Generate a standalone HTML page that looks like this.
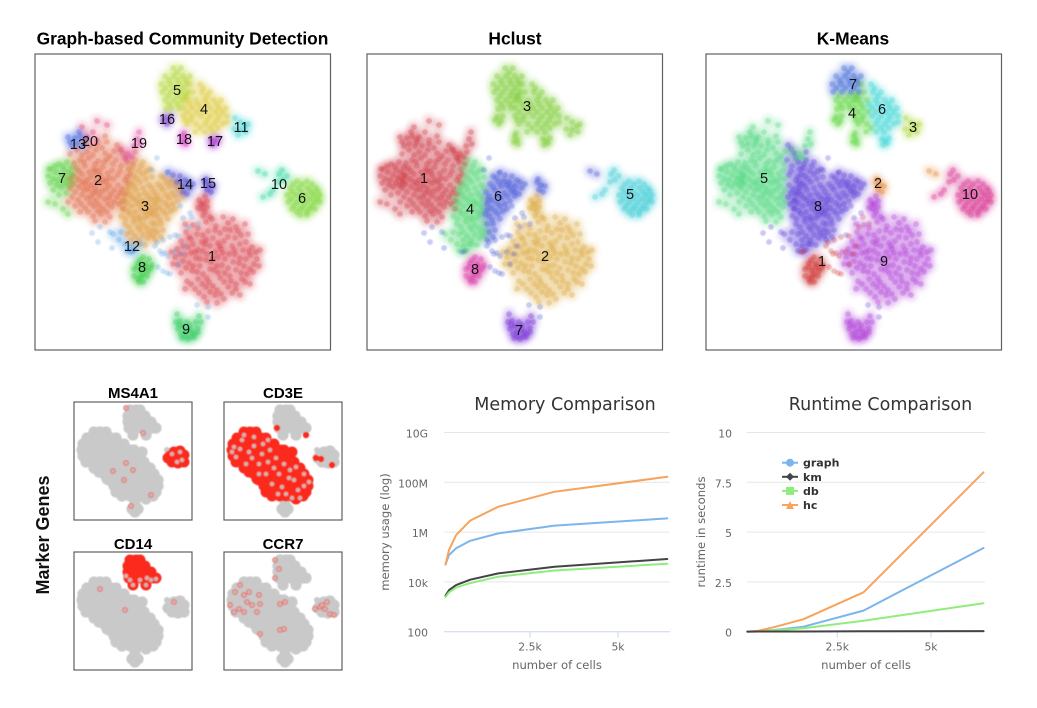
<!DOCTYPE html>
<html lang="en">
<head>
<meta charset="utf-8">
<title>Clustering comparison</title>
<style>
html,body{margin:0;padding:0;background:#fff;width:1037px;height:708px;overflow:hidden}
svg{display:block}
.big-title{font:bold 17.4px "Liberation Sans",sans-serif;fill:#000;text-anchor:middle}
.mini-title{font:bold 15px "Liberation Sans",sans-serif;fill:#000;text-anchor:middle}
.side-title{font:bold 18px "Liberation Sans",sans-serif;fill:#111;text-anchor:middle}
.chart-title{font:17.5px "DejaVu Sans",sans-serif;fill:#333;text-anchor:middle}
.axis-title{font:11.6px "DejaVu Sans",sans-serif;fill:#666;text-anchor:middle}
.tick{font:10.8px "DejaVu Sans",sans-serif;fill:#666}
.legend-text{font:bold 11px "DejaVu Sans",sans-serif;fill:#333}
.cluster-label{font:14.5px "Liberation Sans",sans-serif;fill:#111;text-anchor:middle}
.frame{fill:#fff;stroke:#606060;stroke-width:1.2}
</style>
</head>
<body>
<svg id="figure" xmlns="http://www.w3.org/2000/svg" width="1037" height="708" viewBox="0 0 1037 708">
  <defs>
    <filter id="soft" x="-10%" y="-10%" width="120%" height="120%"><feGaussianBlur stdDeviation="2.4"/></filter>
    <filter id="slight" x="-5%" y="-5%" width="110%" height="110%"><feGaussianBlur stdDeviation="0.4"/></filter>
  </defs>
  <text class="big-title" x="182.5" y="44.5">Graph-based Community Detection</text>
  <text class="big-title" x="515" y="44.5">Hclust</text>
  <text class="big-title" x="853" y="44.5">K-Means</text>
  <text class="side-title" transform="translate(49,535) rotate(-90)">Marker Genes</text>
  <text class="mini-title" x="133" y="398">MS4A1</text>
  <text class="mini-title" x="283" y="398">CD3E</text>
  <text class="mini-title" x="133" y="549">CD14</text>
  <text class="mini-title" x="283" y="549">CCR7</text>
  <text class="chart-title" x="565" y="410">Memory Comparison</text>
  <text class="chart-title" x="880.5" y="410">Runtime Comparison</text>
  <text class="axis-title" x="557" y="669">number of cells</text>
  <text class="axis-title" x="866" y="669">number of cells</text>
  <text class="axis-title" transform="translate(389,532) rotate(-90)">memory usage (log)</text>
  <text class="axis-title" transform="translate(705,532) rotate(-90)">runtime in seconds</text>
</svg>
<script>
// ---------- t-SNE embedding, grouped by region (embedding units) ----------
const c1Points=[[168,162],[177,165],[188,163],[158,171],[171,168],[181,172],[193,169],[201,173],[151,178],[162,180],[173,177],[185,179],[195,176],[206,181],[146,187],[156,185],[167,188],[178,184],[189,187],[200,184],[211,188],[142,195],[153,193],[163,196],[175,192],[186,195],[197,192],[208,196],[217,193],[140,203],[150,201],[161,204],[172,200],[183,203],[194,200],[205,204],[215,201],[222,205],[143,211],[154,209],[165,212],[176,208],[187,211],[198,208],[209,212],[219,210],[146,219],[157,217],[168,220],[179,216],[190,219],[201,216],[212,220],[152,227],[163,225],[174,228],[185,224],[196,227],[207,225],[160,235],[171,233],[182,236],[193,233],[201,235],[169,243],[180,241],[189,245],[170,190],[180,198],[165,205],[190,205],[175,215],[185,192],[160,198],[200,200],[163,174],[175,163],[190,175],[198,165],[154,183],[168,181],[180,176],[203,177],[213,180],[148,192],[158,190],[171,186],[183,189],[193,183],[205,190],[214,197],[145,200],[156,199],[168,197],[178,204],[188,199],[199,196],[211,205],[221,198],[148,207],[158,212],[171,206],[182,212],[193,214],[204,209],[215,215],[224,212],[151,214],[162,218],[172,224],[183,219],[195,222],[206,219],[218,218],[156,230],[167,230],[178,232],[189,228],[201,230],[210,228],[164,239],[175,238],[186,240],[197,239],[172,248],[182,249],[136,198],[138,210],[225,196],[215,230],[150,235],[205,241],[210,170],[150,170]];
const c1bPoints=[[168,150],[164,146],[172,153],[167,155],[163,154],[172,147],[170,142],[166,150],[170,158]];
const c2aPoints=[[62,90],[72,88],[52,98],[61,96],[70,99],[79,97],[45,106],[54,104],[63,107],[72,105],[41,114],[50,112],[59,115],[68,113],[77,116],[38,122],[47,120],[56,123],[65,121],[74,124],[38,130],[47,128],[56,131],[65,129],[74,132],[40,138],[49,136],[58,139],[67,137],[76,140],[43,146],[52,144],[61,147],[70,145],[79,148],[50,154],[59,152],[68,155],[77,153],[58,162],[66,160],[75,163],[60,118],[52,126],[68,126],[60,134],[55,92],[67,94],[47,101],[58,101],[75,102],[39,109],[49,108],[60,110],[69,108],[78,110],[44,117],[54,118],[64,117],[73,119],[35,125],[43,125],[50,130],[61,127],[71,128],[79,125],[35,134],[44,133],[53,135],[62,138],[71,135],[79,136],[37,143],[47,141],[56,143],[65,142],[74,144],[46,150],[55,149],[64,151],[73,150],[53,158],[63,157],[72,158],[45,158],[40,152],[33,148],[60,167],[70,168],[50,88],[42,96],[70,82],[35,100]];
const c2bPoints=[[82,91],[88,99],[81,106],[90,104],[86,112],[94,115],[83,121],[92,123],[83,131],[93,129],[85,139],[88,147],[85,95],[92,108],[85,117],[90,126],[87,135],[82,143],[90,140],[95,120],[98,110],[88,155],[84,150],[100,98]];
const c3aPoints=[[100,106],[108,108],[97,114],[106,112],[115,115],[99,122],[108,120],[117,123],[96,130],[105,128],[114,131],[92,138],[101,136],[110,139],[89,146],[98,144],[107,147],[116,145],[88,154],[97,152],[106,155],[115,153],[86,162],[95,160],[104,163],[113,161],[90,170],[99,168],[108,171],[117,169],[96,178],[105,176],[114,179],[104,186],[113,184],[103,150],[110,158],[105,166],[104,117],[112,117],[102,125],[111,125],[93,134],[99,132],[108,134],[117,134],[95,141],[104,141],[113,142],[92,149],[101,146],[112,150],[93,157],[100,158],[108,150],[116,158],[90,165],[99,164],[110,164],[94,173],[103,173],[112,174],[118,176],[100,182],[108,181],[118,182],[102,190],[110,191],[96,186],[92,180]];
const c3bPoints=[[126,122],[123,130],[132,128],[140,131],[119,138],[128,136],[137,139],[145,137],[125,146],[134,144],[143,147],[124,154],[133,152],[140,155],[122,162],[131,160],[126,170],[122,178],[120,150],[118,160],[129,124],[137,127],[126,133],[134,132],[143,133],[122,142],[131,141],[140,142],[148,142],[121,146],[130,149],[138,150],[120,156],[128,157],[136,157],[125,166],[133,165],[120,170],[128,176],[120,186],[126,183]];
const c4aPoints=[[155,30],[158,38],[152,46],[161,46],[148,54],[157,54],[148,62],[157,62],[152,70],[161,70],[160,78],[150,42],[155,50],[152,58],[162,58],[156,66],[150,66],[165,74]];
const c4bPoints=[[165,30],[167,38],[175,38],[170,46],[179,46],[186,46],[166,54],[175,54],[184,54],[191,54],[166,62],[175,62],[184,62],[192,62],[170,70],[179,70],[188,70],[170,78],[178,78],[168,34],[172,42],[182,50],[172,50],[163,50],[188,58],[180,58],[170,58],[172,66],[182,66],[192,68],[175,74],[183,74]];
const c5aPoints=[[138,14],[146,14],[130,22],[139,22],[148,22],[155,22],[126,30],[135,30],[144,30],[152,30],[127,38],[136,38],[145,38],[153,38],[142,18],[134,26],[143,26],[151,26],[130,34],[139,34],[148,34]];
const c5bPoints=[[130,46],[139,46],[148,46],[136,54],[144,54],[133,42],[143,42],[151,42],[134,50],[143,50],[131,55]];
const c6Points=[[262,127],[272,127],[255,134],[264,134],[273,134],[281,134],[252,141],[261,141],[270,141],[279,141],[285,141],[253,148],[262,148],[271,148],[280,148],[285,148],[257,155],[266,155],[275,155],[280,155],[265,161],[272,161],[258,130],[267,130],[277,130],[257,138],[266,138],[276,138],[283,137],[256,145],[266,145],[275,145],[283,145],[259,152],[268,152],[277,152],[262,158],[272,158]];
const c7Points=[[16,115],[24,110],[32,108],[13,122],[21,118],[29,116],[37,113],[15,129],[23,126],[31,124],[37,121],[18,136],[26,133],[33,131],[36,128],[24,141],[31,139],[13,148],[20,150],[28,155],[33,160],[20,112],[28,112],[18,125],[26,121],[34,118],[22,131],[29,129],[14,115]];
const c8Points=[[108,203],[114,205],[103,209],[110,210],[117,211],[99,215],[106,216],[113,217],[99,222],[106,223],[112,222],[104,228],[105,206],[111,213],[102,213],[108,220],[103,225],[116,214],[108,228]];
const c9Points=[[142,260],[145,267],[164,262],[141,268],[148,272],[155,271],[161,268],[143,275],[150,278],[157,278],[163,274],[147,284],[153,285],[159,283],[166,268],[146,280],[154,275],[160,280],[150,283],[156,283],[144,271],[152,268],[163,278]];
const c10aPoints=[[223,117],[230,120]];
const c10Points=[[247,116],[252,122],[243,128],[238,136],[235,140],[228,143],[248,126],[244,120]];
const c11Points=[[200,64],[205,68],[210,72],[199,75],[205,76],[211,78],[203,81],[213,70]];
const c12Points=[[78,180],[84,186],[90,190],[96,192],[100,196],[92,197],[86,178],[105,190],[97,198]];
const c13Points=[[35,88],[40,84],[45,82],[42,90],[50,85],[37,92],[48,92],[33,83],[44,78]];
const c14Points=[[148,132],[153,128],[158,130],[150,126],[145,122],[138,121],[133,118],[148,138],[152,140],[142,128],[155,134]];
const c15Points=[[170,128],[174,131],[178,132],[172,136],[176,138],[171,125]];
const c16Points=[[130,63],[134,67],[132,70],[136,62],[128,66]];
const c17Points=[[179,87],[176,85],[181,89],[177,91],[183,84]];
const c18Points=[[148,82],[150,86],[147,88],[151,90],[149,79]];
const c19Points=[[102,85],[105,90],[99,92],[93,100],[91,104],[97,103],[86,96],[104,78]];
const c20Points=[[52,83],[58,78],[62,86],[62,67],[47,73],[72,71]];
const strayPoints=[[122,104],[117,116],[132,119],[145,152],[155,159],[148,164],[140,181],[65,173],[63,188],[57,179],[75,178],[77,194],[162,251],[173,253],[173,263]];
const strayLowerPoints=[[143,182],[135,183],[150,192],[140,198],[147,200],[133,202],[125,197],[120,192],[157,163],[163,170],[153,173],[98,197],[95,198],[143,210],[128,217],[135,220],[127,200],[128,186],[130,199],[123,213],[132,219],[122,188]];

const regionPoints=[c1Points,c1bPoints,c2aPoints,c2bPoints,c3aPoints,c3bPoints,c4aPoints,c4bPoints,c5aPoints,c5bPoints,c6Points,c7Points,c8Points,c9Points,c10Points,c11Points,c12Points,c13Points,c14Points,c15Points,c16Points,c17Points,c18Points,c19Points,c20Points,strayPoints,strayLowerPoints,c10aPoints];
const sparseRegions=[strayPoints,strayLowerPoints];

// cluster assignment of each region under each method
const graphAssignment=[1,1,2,2,3,3,4,4,5,5,6,7,8,9,10,11,12,13,14,15,16,17,18,19,20,12,12,10];
const hclustAssignment=[2,2,1,1,4,6,3,3,3,3,5,1,8,7,5,3,4,1,6,6,3,3,3,1,1,6,6,6];
const kmeansAssignment=[9,9,5,8,8,8,4,6,7,4,10,5,1,9,10,3,8,5,8,2,4,6,4,5,5,8,1,2];

const graphColors=["#d8404c","#df6844","#dd9a40","#dcc93c","#b5d53a","#7fd63a","#5fd044","#3ccb45","#35cb62","#35d5a0","#3fd6d6","#5ea6e8","#3f66e0","#4646d8","#4a34d4","#7d3fd2","#a832d6","#d83ccc","#df4aa6","#dd3f72"];
const hclustColors=["#cf3c46","#dcaa3f","#7fcc38","#55d876","#3fcdd6","#4a58d8","#7a35d6","#d83ca6"];
const kmeansColors=["#cc3030","#e2893a","#b0d53a","#5fd640","#52d880","#3fd6d6","#4068d8","#5f3fd8","#b040d8","#d83690"];

// label positions in embedding units
const graphLabelIds=[1,2,3,4,5,6,7,8,9,10,11,12,13,14,15,16,17,18,19,20];
const graphLabelU=[177,63,110,169,142,267,27,107,151,244,206,97,43,150,173,132,180,149,104,55];
const graphLabelV=[202,126,152,55,36,144,124,213,275,130,73,192,90,130,129,65,87,85,89,87];
const hclustLabelIds=[1,2,3,4,5,6,7,8];
const hclustLabelU=[57,178,160,103,263,131,152,108];
const hclustLabelV=[124,202,52,155,140,142,276,215];
const kmeansLabelIds=[1,2,3,4,5,6,7,8,9,10];
const kmeansLabelU=[116,172,207,146,58,176,147,112,178,264];
const kmeansLabelV=[207,129,73,59,124,55,30,152,207,140];

// ---------- marker-gene mini embedding (0..118 units) ----------
const miniMainPoints=[[20,30],[26,30],[32,30],[13,36],[19,36],[25,36],[31,36],[37,36],[42,36],[9,42],[15,42],[21,42],[27,42],[33,42],[39,42],[45,42],[50,42],[8,48],[14,48],[20,48],[26,48],[32,48],[38,48],[44,48],[50,48],[56,48],[60,48],[9,54],[15,54],[21,54],[27,54],[33,54],[39,54],[45,54],[51,54],[57,54],[63,54],[66,54],[68,50],[12,60],[18,60],[24,60],[30,60],[36,60],[42,60],[48,60],[54,60],[60,60],[66,60],[70,60],[20,66],[26,66],[32,66],[38,66],[44,66],[50,66],[56,66],[62,66],[68,66],[74,66],[76,66],[30,72],[36,72],[42,72],[48,72],[54,72],[60,72],[66,72],[72,72],[78,72],[80,72],[35,78],[41,78],[47,78],[53,78],[59,78],[65,78],[71,78],[77,78],[84,78],[40,84],[46,84],[52,84],[58,84],[64,84],[70,84],[76,84],[82,84],[84,84],[42,90],[48,90],[54,90],[60,90],[66,90],[72,90],[78,90],[82,90],[48,94],[56,94],[62,94],[68,94],[74,94],[79,94],[25,70],[33,77],[72,97]];
const miniBumpPoints=[[61,98],[61,102],[58,107],[64,107],[61,110]];
const miniTopPoints=[[56,8],[62,8],[66,8],[54,14],[60,14],[66,14],[71,14],[54,20],[60,20],[66,20],[72,20],[77,20],[55,26],[61,26],[67,26],[73,26],[79,26],[82,26],[59,33],[72,33]];
const miniRightPoints=[[100,50],[106,49],[110,53],[96,54],[102,55],[108,56],[98,60],[104,61],[110,60],[94,56]];
const miniArmPoints=[[93,48]];

// marker genes: group fully expressed, plus individually typed cells
const geneNames=["MS4A1","CD3E","CD14","CCR7"];
const geneBoxX=[74,224,74,224];
const geneBoxY=[402,402,552,552];
const geneHighGroups=[[miniRightPoints],[miniMainPoints],[miniTopPoints],[]];
const ms4a1Rings=[[52,61],[59,68],[50,78],[77,93],[57,104],[39,69],[69,31],[52,6],[103,60],[108,58],[98,52],[106,50]];
const cd3eRings=[[10,45],[18,38],[25,50],[12,55],[30,44],[38,52],[22,62],[35,62],[46,48],[44,60],[52,56],[30,35],[60,62],[55,72],[66,68],[42,72],[48,82],[58,85],[70,78],[74,88],[80,72],[62,92],[80,84],[68,96],[50,66],[16,47],[28,56],[39,42],[72,65],[85,80],[54,92],[76,96],[65,76],[35,72],[8,50],[20,33],[44,38]];
const cd14Rings=[[56,28],[59,33],[72,33],[82,27],[77,28],[52,24],[66,28],[73,26],[26,37],[51,58],[100,50]];
const ccr7Rings=[[6,53],[11,40],[16,33],[20,43],[25,40],[23,50],[15,57],[28,53],[35,43],[36,52],[10,60],[20,60],[33,60],[56,52],[61,50],[56,78],[36,82],[60,77],[55,17],[51,8],[51,26],[91,57],[96,55],[103,50],[101,57],[106,62],[110,63],[98,53]];
const geneRings=[ms4a1Rings,cd3eRings,cd14Rings,ccr7Rings];
const cd3eExtraRed=[[53,26],[92,56],[97,57],[108,63],[82,33]];

// ---------- line charts ----------
const cellCounts=[100,200,400,800,1600,3200,6400];
const seriesNames=["graph","km","db","hc"];
const seriesColors=["#7cb5ec","#434348","#90ed7d","#f7a35c"];
const memGraph=[5e4,1.2e5,2.24e5,4.47e5,8.9e5,1.82e6,3.55e6];
const memKm=[2820,4680,7410,12300,21900,40700,83200];
const memDb=[2450,3800,5890,8910,16200,28800,53700];
const memHc=[5e4,1.9e5,7.6e5,2.9e6,1.05e7,4.2e7,1.66e8];
const memTickValues=[100,1e4,1e6,1e8,1e10];
const memTickLabels=["100","10k","1M","100M","10G"];
const runGraph=[0.005,0.012,0.03,0.08,0.25,1.06,4.2];
const runKm=[0.005,0.005,0.008,0.01,0.012,0.02,0.03];
const runDb=[0.005,0.01,0.02,0.06,0.17,0.55,1.43];
const runHc=[0.01,0.02,0.05,0.22,0.63,1.98,8.0];
const runTickValues=[0,2.5,5,7.5,10];
const runTickLabels=["0","2.5","5","7.5","10"];
const xTickValues=[2500,5000];
const xTickLabels=["2.5k","5k"];

// ---------- drawing ----------
const NS="http://www.w3.org/2000/svg";
const fig=document.getElementById("figure");
function make(tag,attrs,parent){
  const el=document.createElementNS(NS,tag);
  for(const k in attrs) el.setAttribute(k,attrs[k]);
  (parent||fig).appendChild(el);
  return el;
}

function drawScatter(x0,y0,assign,colors,ids,labU,labV){
  const frame=make("rect",{x:x0,y:y0,width:295.5,height:296,class:"frame"});
  
  
  const soft=make("g",{filter:"url(#soft)"});
  
  
  const crisp=make("g",{filter:"url(#slight)"});
  
  
  const sx=u=>x0+u, sy=v=>y0+v;
  regionPoints.forEach((pts,r)=>{
    const col=colors[assign[r]-1];
    const sparse=sparseRegions.includes(pts);
    pts.forEach(p=>{
      if(!sparse){
        const b=make("circle",{cx:sx(p[0]),cy:sy(p[1]),r:6.5,fill:col,"fill-opacity":0.2},soft);
        
        
      }
      const d=make("circle",{cx:sx(p[0]),cy:sy(p[1]),r:2.9,fill:col,"fill-opacity":sparse?0.3:0.36},crisp);
      
      
    });
  });
  ids.forEach((id,i)=>{
    const t=make("text",{x:sx(labU[i]),y:sy(labV[i])+5,class:"cluster-label"});
    
    
    t.textContent=id;
  });
}
drawScatter(35,54,graphAssignment,graphColors,graphLabelIds,graphLabelU,graphLabelV);
drawScatter(367,54,hclustAssignment,hclustColors,hclustLabelIds,hclustLabelU,hclustLabelV);
drawScatter(706,54,kmeansAssignment,kmeansColors,kmeansLabelIds,kmeansLabelU,kmeansLabelV);

// marker panels
const allMini=[miniMainPoints,miniBumpPoints,miniTopPoints,miniRightPoints];
geneNames.forEach((gene,g)=>{
  const x0=geneBoxX[g],y0=geneBoxY[g];
  const frame=make("rect",{x:x0,y:y0,width:118,height:118,class:"frame"});
  
  
  const grp=make("g",{filter:"url(#slight)"});
  
  
  allMini.forEach(list=>list.forEach(p=>{
    const c=make("circle",{cx:x0+p[0],cy:y0+p[1],r:5.6,fill:"#c9c9c9"},grp);
    
    
  }));
  miniArmPoints.forEach(p=>{
    const c=make("circle",{cx:x0+p[0],cy:y0+p[1],r:3,fill:"#c9c9c9"},grp);
    
    
  });
  geneHighGroups[g].forEach(list=>list.forEach(p=>{
    const c=make("circle",{cx:x0+p[0],cy:y0+p[1],r:5.5,fill:"#fb2a1e"},grp);
    
    
  }));
  if(gene==="CD3E") cd3eExtraRed.forEach(p=>{
    const c=make("circle",{cx:x0+p[0],cy:y0+p[1],r:3.2,fill:"#fb2a1e"},grp);
    
    
  });
  geneRings[g].forEach(p=>{
    const c=make("circle",{cx:x0+p[0],cy:y0+p[1],r:2.5,fill:"#d9aeab",stroke:"#f0473c","stroke-opacity":0.6,"stroke-width":1},grp);
    
    
  });
});

// line charts
const plotTop=432.5, plotBottom=631.7;
function drawLine(xVals,yVals,xs,ys,color,width){
  const d=xVals.map((v,i)=>(i?"L":"M")+xs(v).toFixed(1)+" "+ys(yVals[i]).toFixed(1)).join(" ");
  const path=make("path",{d:d,fill:"none",stroke:color,"stroke-width":width,"stroke-linejoin":"round","stroke-linecap":"round"});
  
  
}
function drawAxes(xs,ys,left,right,yTicks,yLabels,labelX){
  yTicks.forEach((v,i)=>{
    const y=ys(v);
    const g=make("line",{x1:left,x2:right,y1:y,y2:y,stroke:i?"#e6e6e6":"#ccd6eb","stroke-width":1});
    
    
    const t=make("text",{x:labelX,y:y+5,class:"tick","text-anchor":"end"});
    
    
    t.textContent=yLabels[i];
  });
  xTickValues.forEach((v,i)=>{
    const x=xs(v);
    const k=make("line",{x1:x,x2:x,y1:plotBottom,y2:plotBottom+6,stroke:"#ccd6eb","stroke-width":1});
    
    
    const t=make("text",{x:x,y:650.5,class:"tick","text-anchor":"middle"});
    
    
    t.textContent=xTickLabels[i];
  });
}
const memX=v=>442+v*0.0352;
const memY=v=>plotBottom-(Math.log10(v)-2)*(plotBottom-plotTop)/8;
drawAxes(memX,memY,444,670,memTickValues,memTickLabels,428);
[memGraph,memKm,memDb,memHc].forEach((s,i)=>drawLine(cellCounts,s,memX,memY,seriesColors[i],2));

const runX=v=>743.5+v*0.0375;
const runY=v=>plotBottom-v*(plotBottom-plotTop)/10;
drawAxes(runX,runY,747,985,runTickValues,runTickLabels,732);
[runGraph,runDb,runHc,runKm].forEach((s,i)=>drawLine(cellCounts,s,runX,runY,[seriesColors[0],seriesColors[2],seriesColors[3],seriesColors[1]][i],2));

// legend
seriesNames.forEach((name,i)=>{
  const y=462.7+i*14.1;
  const g=make("g",{});
  
  
  const ln=make("line",{x1:782,x2:798,y1:y,y2:y,stroke:seriesColors[i],"stroke-width":2},g);
  
  
  let m;
  if(i===0) m=make("circle",{cx:790,cy:y,r:4,fill:seriesColors[i]},g);
  if(i===1) m=make("path",{d:`M790 ${y-4}L794 ${y}L790 ${y+4}L786 ${y}Z`,fill:seriesColors[i]},g);
  if(i===2) m=make("rect",{x:786,y:y-4,width:8,height:8,fill:seriesColors[i]},g);
  if(i===3) m=make("path",{d:`M790 ${y-4}L794 ${y+4}L786 ${y+4}Z`,fill:seriesColors[i]},g);
  
  
  const t=make("text",{x:803,y:y+4,class:"legend-text"},g);
  
  
  t.textContent=name;
});
</script>
</body>
</html>
